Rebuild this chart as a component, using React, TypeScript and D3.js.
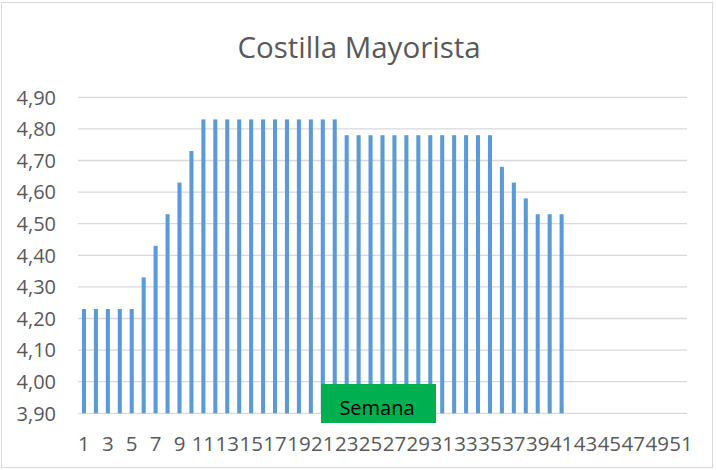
import { range, scaleBand, scaleLinear } from "d3";

// weekly price, weeks 1..41 (weeks 42..51 empty)
const weeks = range(1, 52).map(String);
const prices = [
    4.23, 4.23, 4.23, 4.23, 4.23, 4.33, 4.43, 4.53, 4.63, 4.73,
    4.83, 4.83, 4.83, 4.83, 4.83, 4.83, 4.83, 4.83, 4.83, 4.83, 4.83, 4.83,
    4.78, 4.78, 4.78, 4.78, 4.78, 4.78, 4.78, 4.78, 4.78, 4.78, 4.78, 4.78, 4.78,
    4.68, 4.63, 4.58, 4.53, 4.53, 4.53,
];
const yTicks = [3.9, 4.0, 4.1, 4.2, 4.3, 4.4, 4.5, 4.6, 4.7, 4.8, 4.9];
const title = "Costilla Mayorista";
const xLabel = "Semana";

export default function App() {
    const width = 716
    const height = 470
    const left = 78, right = 687, top = 97.3, bottom = 413.3
    const font = "'Open Sans', 'Noto Sans', sans-serif"
    const textColor = "#595959"

    const x = scaleBand<string>()
        .domain(weeks)
        .range([left, right])
        .paddingInner(0.66)
        .paddingOuter(0.33)
    const y = scaleLinear()
        .domain([3.9, 4.9])
        .range([bottom, top])

    const fmt = (v: number) => v.toFixed(2).replace(".", ",")

    return (
        <svg width={width} height={height} viewBox={`0 0 ${width} ${height}`}
            style={{ position: "absolute", left: 0, top: 0, background: "#fff" }}>
            <rect x={1.5} y={2.5} width={711} height={465} fill="#fff" stroke="#d9d9d9" />
            <text x={359} y={58} textAnchor="middle" fontFamily={font} fontSize={29.5} fill={textColor}>
                {title}
            </text>
            {yTicks.map(t => (
                <g key={t}>
                    <line x1={left} x2={right} y1={y(t)} y2={y(t)} stroke="#d9d9d9" strokeWidth={1.3} />
                    <text x={56} y={y(t)} dy="0.36em" textAnchor="end" fontFamily={font} fontSize={20} fill={textColor}>
                        {fmt(t)}
                    </text>
                </g>
            ))}
            {prices.map((v, i) => (
                <rect key={i}
                    x={x(weeks[i])!}
                    y={y(v)}
                    width={x.bandwidth()}
                    height={y(3.9) - y(v)}
                    fill="#5B9BD5" />
            ))}
            {weeks.filter((_, i) => i % 2 === 0).map(w => (
                <text key={w} x={x(w)! + x.bandwidth() / 2} y={450.5} textAnchor="middle"
                    fontFamily={font} fontSize={20.5} fill={textColor}>
                    {w}
                </text>
            ))}
            <rect x={321} y={384} width={115} height={39} fill="#00B050" />
            <text x={377} y={415} textAnchor="middle" fontFamily={font} fontSize={20} fill="#000">
                {xLabel}
            </text>
        </svg>
    )
}
